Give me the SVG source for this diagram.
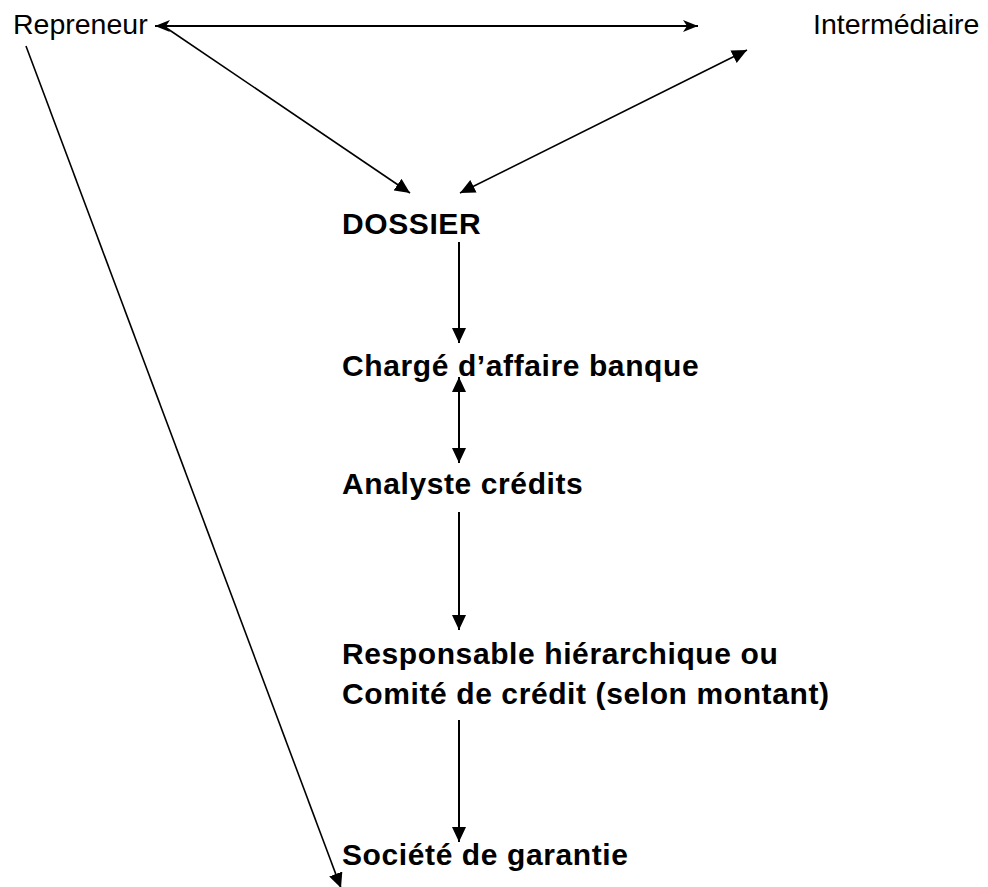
<svg xmlns="http://www.w3.org/2000/svg" width="988" height="887" viewBox="0 0 988 887">
<style>
.reg{font-family:"Liberation Sans",Arial,sans-serif;font-size:28.5px;fill:#000}
.bold{font-family:"Liberation Sans",Arial,sans-serif;font-size:30px;font-weight:bold;letter-spacing:0.6px;fill:#000}
.ln{stroke:#000;stroke-width:2;fill:none}
.thin{stroke:#000;stroke-width:1.6;fill:none}
</style>
<defs>
<marker id="tri" markerUnits="userSpaceOnUse" viewBox="0 0 15 14" refX="15" refY="7" markerWidth="15" markerHeight="14" orient="auto-start-reverse">
<path d="M0,0 L15,7 L0,14 z" fill="#000"/>
</marker>
<marker id="stealth" markerUnits="userSpaceOnUse" viewBox="0 0 15 12" refX="15" refY="6" markerWidth="15" markerHeight="12" orient="auto-start-reverse">
<path d="M0,0 L15,6 L0,12 L4,6 z" fill="#000"/>
</marker>
</defs>
<g id="connectors">
<line class="ln" x1="155" y1="26" x2="698" y2="26" marker-start="url(#stealth)" marker-end="url(#stealth)"/>
<line class="thin" x1="165" y1="27" x2="410" y2="193" marker-end="url(#tri)"/>
<line class="thin" x1="747" y1="50" x2="460" y2="193" marker-start="url(#tri)" marker-end="url(#tri)"/>
<line class="thin" x1="26" y1="46" x2="341" y2="888" marker-end="url(#tri)"/>
<line class="ln" x1="459" y1="242" x2="459" y2="343" marker-end="url(#tri)"/>
<line class="ln" x1="459" y1="377" x2="459" y2="463" marker-start="url(#tri)" marker-end="url(#tri)"/>
<line class="ln" x1="459" y1="512" x2="459" y2="630" marker-end="url(#tri)"/>
<line class="ln" x1="459" y1="720" x2="459" y2="842" marker-end="url(#tri)"/>
</g>
<g id="repreneur"><text class="reg" x="13" y="34">Repreneur</text></g>
<g id="intermediaire"><text class="reg" x="813" y="34">Intermédiaire</text></g>
<g id="dossier"><text class="bold" x="342" y="234">DOSSIER</text></g>
<g id="charge"><text class="bold" x="342" y="376">Chargé d’affaire banque</text></g>
<g id="analyste"><text class="bold" x="342" y="494">Analyste crédits</text></g>
<g id="responsable"><text class="bold" x="342" y="664">Responsable hiérarchique ou</text><text class="bold" x="342" y="704">Comité de crédit (selon montant)</text></g>
<g id="societe"><text class="bold" x="342" y="865">Société de garantie</text></g>
</svg>
